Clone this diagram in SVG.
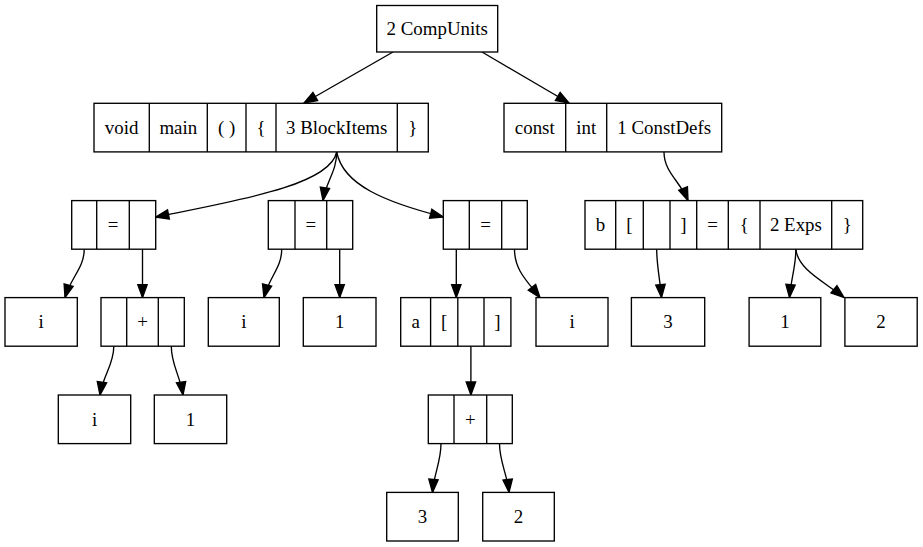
<svg xmlns="http://www.w3.org/2000/svg" width="923" height="547" viewBox="0 0 923 547">
  <style>
    .box { fill: #ffffff; stroke: #000000; stroke-width: 1.35; }
    .div { stroke: #000000; stroke-width: 1.35; }
    .lbl { font-family: "Liberation Serif", "Times New Roman", serif; font-size: 18.9px; fill: #000000; text-anchor: middle; }
    .edge { fill: none; stroke: #000000; stroke-width: 1.35; marker-end: url(#arrow); }
  </style>
  <defs>
    <marker id="arrow" markerUnits="userSpaceOnUse" markerWidth="16" markerHeight="12" refX="14" refY="6" orient="auto" overflow="visible">
      <path d="M1,1.3 L14,6 L1,10.7 Z" fill="#000000" stroke="#000000" stroke-width="1.35"/>
    </marker>
  </defs>

  <rect width="923" height="547" fill="#ffffff"/>

  <!-- connectors -->
  <g id="edges">
    <path class="edge" d="M393,52 L304,103"/>
    <path class="edge" d="M482,52 L569,103"/>
    <path class="edge" d="M336.7,152 C330,185 240,200 155.7,217"/>
    <path class="edge" d="M336.7,152 C336.7,172 326,181 323,200.6"/>
    <path class="edge" d="M336.7,152 C343,185 385,202 443.3,217"/>
    <path class="edge" d="M664,152 C664,172 680,181 688,200.6"/>
    <path class="edge" d="M84.2,249.2 C84.2,268 71,277 65,297.6"/>
    <path class="edge" d="M142.5,249.2 L142.5,297.6"/>
    <path class="edge" d="M281.7,249.2 C281.7,268 269,277 264,297.6"/>
    <path class="edge" d="M339.7,249.2 L339.7,297.6"/>
    <path class="edge" d="M456.3,249.2 L456.3,297.6"/>
    <path class="edge" d="M514.5,249.2 C514.5,270 527,281 540,297.6"/>
    <path class="edge" d="M656.7,249.2 C656.7,266 660,279 661.5,297.6"/>
    <path class="edge" d="M795.9,249.2 C795.9,266 791,279 789.5,297.6"/>
    <path class="edge" d="M795.9,249.2 C798,270 825,282 844,297.6"/>
    <path class="edge" d="M113.8,346.2 C113.8,365 103,375 100,395"/>
    <path class="edge" d="M171.3,346.2 C171.3,365 180,375 183,395"/>
    <path class="edge" d="M470.9,346.2 L470.9,395"/>
    <path class="edge" d="M441,443.6 C441,462 434,473 432.5,492.4"/>
    <path class="edge" d="M499.5,443.6 C499.5,462 507,473 509,492.4"/>
  </g>

  <!-- rank 0 -->
  <g id="compunits">
    <rect class="box" x="376.7" y="5.5" width="121" height="46.5"/>
    <text class="lbl" x="437.2" y="35.3">2 CompUnits</text>
  </g>

  <!-- rank 1 -->
  <g id="funcdef">
    <rect class="box" x="94" y="103.3" width="334.3" height="48.6"/>
    <line class="div" x1="149.3" y1="103.3" x2="149.3" y2="151.9"/>
    <line class="div" x1="207.3" y1="103.3" x2="207.3" y2="151.9"/>
    <line class="div" x1="246" y1="103.3" x2="246" y2="151.9"/>
    <line class="div" x1="276" y1="103.3" x2="276" y2="151.9"/>
    <line class="div" x1="397.3" y1="103.3" x2="397.3" y2="151.9"/>
    <text class="lbl" x="121.6" y="134.1">void</text>
    <text class="lbl" x="178.3" y="134.1">main</text>
    <text class="lbl" x="226.6" y="134.1">( )</text>
    <text class="lbl" x="261" y="134.1">{</text>
    <text class="lbl" x="336.7" y="134.1">3 BlockItems</text>
    <text class="lbl" x="412.8" y="134.1">}</text>
  </g>
  <g id="constdecl">
    <rect class="box" x="504" y="103.3" width="217.7" height="48.6"/>
    <line class="div" x1="565.7" y1="103.3" x2="565.7" y2="151.9"/>
    <line class="div" x1="606.7" y1="103.3" x2="606.7" y2="151.9"/>
    <text class="lbl" x="534.8" y="134.1">const</text>
    <text class="lbl" x="586.2" y="134.1">int</text>
    <text class="lbl" x="664.2" y="134.1">1 ConstDefs</text>
  </g>

  <!-- rank 2 -->
  <g id="assign1">
    <rect class="box" x="71.7" y="200.6" width="84" height="48.6"/>
    <line class="div" x1="96.7" y1="200.6" x2="96.7" y2="249.2"/>
    <line class="div" x1="129.3" y1="200.6" x2="129.3" y2="249.2"/>
    <text class="lbl" x="113" y="231.4">=</text>
  </g>
  <g id="assign2">
    <rect class="box" x="268.3" y="200.6" width="84.4" height="48.6"/>
    <line class="div" x1="295" y1="200.6" x2="295" y2="249.2"/>
    <line class="div" x1="326.7" y1="200.6" x2="326.7" y2="249.2"/>
    <text class="lbl" x="310.8" y="231.4">=</text>
  </g>
  <g id="assign3">
    <rect class="box" x="443.3" y="200.6" width="84" height="48.6"/>
    <line class="div" x1="469.3" y1="200.6" x2="469.3" y2="249.2"/>
    <line class="div" x1="501.7" y1="200.6" x2="501.7" y2="249.2"/>
    <text class="lbl" x="485.5" y="231.4">=</text>
  </g>
  <g id="constdef">
    <rect class="box" x="585" y="200.6" width="277.7" height="48.6"/>
    <line class="div" x1="615.7" y1="200.6" x2="615.7" y2="249.2"/>
    <line class="div" x1="643.3" y1="200.6" x2="643.3" y2="249.2"/>
    <line class="div" x1="670" y1="200.6" x2="670" y2="249.2"/>
    <line class="div" x1="696.7" y1="200.6" x2="696.7" y2="249.2"/>
    <line class="div" x1="728.3" y1="200.6" x2="728.3" y2="249.2"/>
    <line class="div" x1="760" y1="200.6" x2="760" y2="249.2"/>
    <line class="div" x1="831.7" y1="200.6" x2="831.7" y2="249.2"/>
    <text class="lbl" x="600.4" y="231.4">b</text>
    <text class="lbl" x="629.5" y="231.4">[</text>
    <text class="lbl" x="683.4" y="231.4">]</text>
    <text class="lbl" x="712.5" y="231.4">=</text>
    <text class="lbl" x="744.2" y="231.4">{</text>
    <text class="lbl" x="795.9" y="231.4">2 Exps</text>
    <text class="lbl" x="847.2" y="231.4">}</text>
  </g>

  <!-- rank 3 -->
  <g id="lval_i1">
    <rect class="box" x="5" y="297.6" width="72.3" height="48.6"/>
    <text class="lbl" x="41.2" y="328.4">i</text>
  </g>
  <g id="add1">
    <rect class="box" x="101" y="297.6" width="83.3" height="48.6"/>
    <line class="div" x1="126.7" y1="297.6" x2="126.7" y2="346.2"/>
    <line class="div" x1="158.3" y1="297.6" x2="158.3" y2="346.2"/>
    <text class="lbl" x="142.5" y="328.4">+</text>
  </g>
  <g id="lval_i2">
    <rect class="box" x="208.3" y="297.6" width="71" height="48.6"/>
    <text class="lbl" x="243.8" y="328.4">i</text>
  </g>
  <g id="num_1a">
    <rect class="box" x="303.3" y="297.6" width="72.7" height="48.6"/>
    <text class="lbl" x="339.7" y="328.4">1</text>
  </g>
  <g id="lval_arr">
    <rect class="box" x="400.7" y="297.6" width="110.2" height="48.6"/>
    <line class="div" x1="430.6" y1="297.6" x2="430.6" y2="346.2"/>
    <line class="div" x1="457.8" y1="297.6" x2="457.8" y2="346.2"/>
    <line class="div" x1="484" y1="297.6" x2="484" y2="346.2"/>
    <text class="lbl" x="415.6" y="328.4">a</text>
    <text class="lbl" x="444.2" y="328.4">[</text>
    <text class="lbl" x="497.4" y="328.4">]</text>
  </g>
  <g id="lval_i3">
    <rect class="box" x="536" y="297.6" width="72" height="48.6"/>
    <text class="lbl" x="572" y="328.4">i</text>
  </g>
  <g id="num_3a">
    <rect class="box" x="631.4" y="297.6" width="73.3" height="48.6"/>
    <text class="lbl" x="668" y="328.4">3</text>
  </g>
  <g id="num_1b">
    <rect class="box" x="749.1" y="297.6" width="71.7" height="48.6"/>
    <text class="lbl" x="785" y="328.4">1</text>
  </g>
  <g id="num_2a">
    <rect class="box" x="844.9" y="297.6" width="72.3" height="48.6"/>
    <text class="lbl" x="881" y="328.4">2</text>
  </g>

  <!-- rank 4 -->
  <g id="lval_i4">
    <rect class="box" x="58.3" y="395" width="72.4" height="48.6"/>
    <text class="lbl" x="94.5" y="425.8">i</text>
  </g>
  <g id="num_1c">
    <rect class="box" x="154.3" y="395" width="72.4" height="48.6"/>
    <text class="lbl" x="190.5" y="425.8">1</text>
  </g>
  <g id="add2">
    <rect class="box" x="428.3" y="395" width="84" height="48.6"/>
    <line class="div" x1="454" y1="395" x2="454" y2="443.6"/>
    <line class="div" x1="486.7" y1="395" x2="486.7" y2="443.6"/>
    <text class="lbl" x="470.4" y="425.8">+</text>
  </g>

  <!-- rank 5 -->
  <g id="num_3b">
    <rect class="box" x="386.7" y="492.4" width="71.6" height="48.6"/>
    <text class="lbl" x="422.5" y="523.2">3</text>
  </g>
  <g id="num_2b">
    <rect class="box" x="482.7" y="492.4" width="71.6" height="48.6"/>
    <text class="lbl" x="518.5" y="523.2">2</text>
  </g>
</svg>
